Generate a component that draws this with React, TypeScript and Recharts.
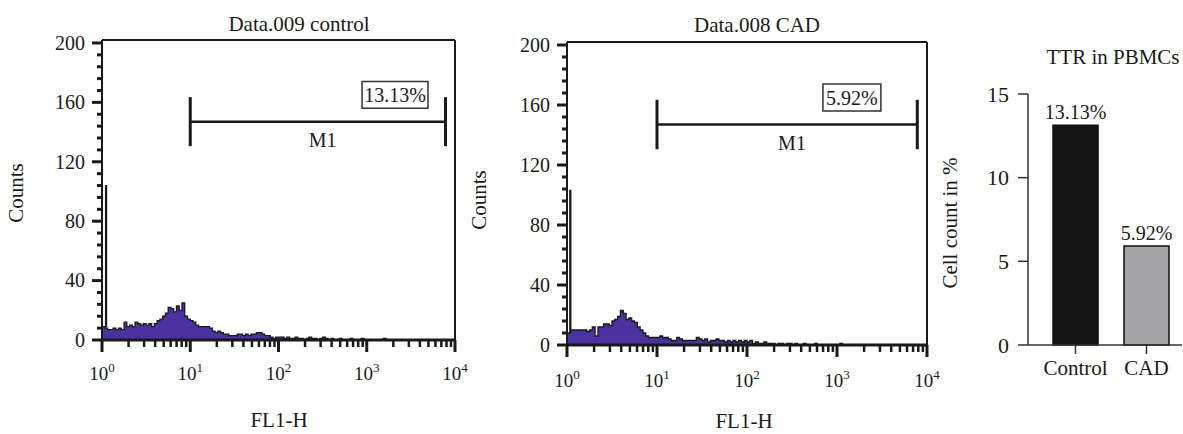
import React from 'react'
import {
  ComposedChart,
  Area,
  XAxis,
  YAxis,
  ReferenceLine,
  ReferenceArea,
  ReferenceDot,
  BarChart,
  Bar,
  Cell,
  LabelList,
} from 'recharts'

const FONT = '"Liberation Serif", "DejaVu Serif", serif'
const INK = '#1a1a1a'
const HIST_FILL = '#4a33a0'

// FL1-H histograms: 32 bins per decade, 10^0 .. 10^4 (128 bins)
const CH_PER_DECADE = 32
const controlCounts = [
  9, 8, 7, 7, 8, 7, 8, 7, 12, 9, 10, 9, 12, 11, 10, 11,
  10, 11, 9, 11, 13, 14, 16, 18, 22, 21, 19, 23, 20, 25, 16, 14,
  13, 12, 10, 9, 9, 9, 9, 8, 6, 5, 6, 5, 4, 4, 3, 3,
  3, 4, 4, 3, 4, 3, 4, 4, 5, 5, 4, 3, 3, 2, 1, 2,
  2, 2, 1, 2, 1, 1, 2, 1, 1, 0, 1, 2, 1, 1, 0, 1,
  2, 1, 0, 1, 0, 0, 1, 0, 0, 0, 1, 0, 0, 0, 1, 0,
  0, 0, 0, 0, 0, 0, 1, 0, 0, 0, 0, 0, 0, 0, 0, 0,
  0, 0, 0, 0, 0, 0, 0, 0, 0, 0, 0, 0, 0, 0, 0, 0,
]
const cadCounts = [
  8, 10, 10, 10, 10, 10, 10, 9, 10, 12, 6, 12, 12, 14, 14, 13,
  16, 17, 19, 23, 21, 17, 18, 16, 15, 12, 10, 8, 6, 5, 5, 5,
  5, 6, 5, 5, 4, 3, 3, 5, 4, 3, 3, 3, 3, 3, 5, 4,
  3, 4, 2, 3, 3, 4, 3, 3, 2, 3, 2, 3, 2, 3, 2, 3,
  2, 3, 1, 2, 1, 1, 2, 1, 1, 1, 0, 1, 1, 0, 1, 1,
  0, 1, 0, 0, 1, 0, 0, 0, 1, 0, 0, 0, 0, 0, 0, 0,
  0, 1, 0, 0, 0, 0, 0, 0, 0, 0, 0, 0, 0, 0, 0, 0,
  0, 0, 0, 0, 0, 0, 0, 0, 0, 0, 0, 0, 0, 0, 0, 0,
]
// off-scale pile-up in the first channel
const controlFirstChannel = 104
const cadFirstChannel = 103

const gateRange = [10, 7800] // M1 marker, FL1-H units
const controlGatePct = '13.13%'
const cadGatePct = '5.92%'

const countMajorTicks = [0, 40, 80, 120, 160, 200]
const countMax = 202

// bar chart
const groups = ['Control', 'CAD']
const ttrPercent = [13.13, 5.92]
const barColors = ['#151515', '#a3a3a7']
const percentTicks = [0, 5, 10, 15]

const toHist = (counts: number[], first: number, firstAt: number) => {
  const rows: { ch: number; count: number }[] = [
    { ch: 0, count: counts[0] },
    { ch: firstAt, count: first },
    { ch: firstAt + 0.35, count: counts[0] },
  ]
  counts.forEach((count, i) => {
    if (i > 0) rows.push({ ch: i, count })
  })
  rows.push({ ch: counts.length, count: counts[counts.length - 1] })
  return rows
}

const chTicks: number[] = []
for (let d = 0; d < 4; d++) {
  for (let k = 1; k <= 9; k++) chTicks.push(CH_PER_DECADE * (d + Math.log10(k)))
}
chTicks.push(CH_PER_DECADE * 4)

const countTicks: number[] = []
for (let v = 0; v <= 200; v += 8) countTicks.push(v)

const toCh = (v: number) => CH_PER_DECADE * Math.log10(v)

const CountTick = ({ x, y, payload }: any) => {
  const v = payload.value
  const major = countMajorTicks.includes(v)
  return (
    <g>
      <line x1={x - (major ? 10 : 5)} x2={x} y1={y} y2={y} stroke={INK} strokeWidth={3} />
      {major && (
        <text x={x - 17} y={y} dy="0.34em" textAnchor="end" fontSize={20} fontFamily={FONT} fill={INK}>
          {v}
        </text>
      )}
    </g>
  )
}

const DecadeTick = ({ x, y, payload, gap }: any) => {
  const d = payload.value / CH_PER_DECADE
  const major = Math.abs(d - Math.round(d)) < 1e-6
  return (
    <g>
      <line x1={x} x2={x} y1={y} y2={y + (major ? 12 : 7)} stroke={INK} strokeWidth={major ? 3 : 2.5} />
      {major && (
        <text x={x} y={y + gap} textAnchor="middle" fontSize={19} fontFamily={FONT} fill={INK}>
          <tspan>10</tspan>
          <tspan dy={-8} fontSize={13}>{Math.round(d)}</tspan>
        </text>
      )}
    </g>
  )
}

const labelStyle = { fontSize: 20, fontFamily: FONT, fill: INK }

function Histogram(props: {
  data: { ch: number; count: number }[]
  pct: string
  box: [number, number]
  top: number
  bottom: number
  axisLeft: number
  right: number
  gap: number
}) {
  const { data, pct, box, top, bottom, axisLeft, right, gap } = props
  const [g0, g1] = gateRange.map(toCh)
  const gateY = 147
  return (
    <ComposedChart width={470} height={434} data={data} margin={{ top, right, left: 0, bottom: 0 }}>
      <XAxis
        type="number"
        dataKey="ch"
        domain={[0, 128]}
        ticks={chTicks}
        interval={0}
        height={434 - bottom}
        tickSize={0}
        tickMargin={0}
        tickLine={false}
        axisLine={{ stroke: INK, strokeWidth: 3 }}
        tick={<DecadeTick gap={gap} />}
        allowDataOverflow
      />
      <YAxis
        type="number"
        domain={[0, countMax]}
        ticks={countTicks}
        interval={0}
        width={axisLeft}
        tickSize={0}
        tickMargin={0}
        tickLine={false}
        axisLine={{ stroke: INK, strokeWidth: 2 }}
        tick={<CountTick />}
        allowDataOverflow
      />
      <Area
        type="stepAfter"
        dataKey="count"
        stroke={INK}
        strokeWidth={1.3}
        fill={HIST_FILL}
        fillOpacity={1}
        baseValue={0}
        dot={false}
        activeDot={false}
        isAnimationActive={false}
      />
      <ReferenceLine y={countMax} stroke={INK} strokeWidth={2} />
      <ReferenceLine x={128} stroke={INK} strokeWidth={2} />
      <ReferenceLine segment={[{ x: g0, y: gateY }, { x: g1, y: gateY }]} stroke={INK} strokeWidth={2.5} />
      <ReferenceLine segment={[{ x: g0, y: gateY - 16.5 }, { x: g0, y: gateY + 16.5 }]} stroke={INK} strokeWidth={3} />
      <ReferenceLine segment={[{ x: g1, y: gateY - 16.5 }, { x: g1, y: gateY + 16.5 }]} stroke={INK} strokeWidth={3} />
      <ReferenceDot x={80} y={135} r={0} fill="none" stroke="none" label={{ value: 'M1', position: 'center', ...labelStyle }} />
      <ReferenceArea
        x1={box[0]}
        x2={box[1]}
        y1={156}
        y2={174}
        fill="#fff"
        fillOpacity={1}
        stroke="#333"
        strokeWidth={1.5}
        label={{ value: pct, position: 'center', ...labelStyle }}
      />
    </ComposedChart>
  )
}

const Caption = ({ x, y, text, rotate }: { x: number; y: number; text: string; rotate?: boolean }) => (
  <div
    style={{
      position: 'absolute',
      left: x,
      top: y,
      transform: `translate(-50%, -50%)${rotate ? ' rotate(-90deg)' : ''}`,
      fontFamily: FONT,
      fontSize: 21,
      lineHeight: 1,
      color: INK,
      whiteSpace: 'nowrap',
    }}
  >
    {text}
  </div>
)

export default function App() {
  const barData = groups.map((group, i) => ({ group, pct: ttrPercent[i] }))
  return (
    <div style={{ position: 'absolute', left: 0, top: 0, width: 1183, height: 434, background: '#fff', overflow: 'hidden' }}>
      <div style={{ position: 'absolute', left: 0, top: 0 }}>
        <Histogram
          data={toHist(controlCounts, controlFirstChannel, 1.3)}
          pct={controlGatePct}
          box={[94.3, 118.2]}
          top={40}
          bottom={340}
          axisLeft={102}
          right={15}
          gap={40}
        />
      </div>
      <div style={{ position: 'absolute', left: 470, top: 0 }}>
        <Histogram
          data={toHist(cadCounts, cadFirstChannel, 1.0)}
          pct={cadGatePct}
          box={[91, 111.6]}
          top={42}
          bottom={345}
          axisLeft={97}
          right={13}
          gap={42}
        />
      </div>
      <div style={{ position: 'absolute', left: 940, top: 0 }}>
        <BarChart width={243} height={434} data={barData} margin={{ top: 94, right: 1, left: 0, bottom: 0 }} barSize={45}>
          <XAxis
            dataKey="group"
            height={89}
            padding={{ left: 12, right: 0 }}
            axisLine={{ stroke: '#333', strokeWidth: 1.5 }}
            tickLine={{ stroke: '#333', strokeWidth: 1.5 }}
            tickSize={9}
            tickMargin={6}
            tick={{ fill: INK, fontSize: 21, fontFamily: FONT }}
            interval={0}
          />
          <YAxis
            type="number"
            domain={[0, 15]}
            ticks={percentTicks}
            interval={0}
            width={88}
            axisLine={{ stroke: '#333', strokeWidth: 1.5 }}
            tickLine={{ stroke: '#333', strokeWidth: 1.5 }}
            tickSize={10}
            tickMargin={9}
            tick={{ fill: INK, fontSize: 22, fontFamily: FONT }}
          />
          <Bar dataKey="pct" stroke="#111" strokeWidth={1.5} isAnimationActive={false}>
            {barData.map((d, i) => (
              <Cell key={d.group} fill={barColors[i]} />
            ))}
            <LabelList
              dataKey="pct"
              position="top"
              offset={6}
              formatter={(v: any) => `${Number(v).toFixed(2)}%`}
              style={{ fill: INK, fontSize: 20, fontFamily: FONT }}
            />
          </Bar>
        </BarChart>
      </div>

      <Caption x={299} y={24} text="Data.009 control" />
      <Caption x={757} y={25} text="Data.008 CAD" />
      <Caption x={16} y={193} text="Counts" rotate />
      <Caption x={479} y={200} text="Counts" rotate />
      <Caption x={279} y={420} text="FL1-H" />
      <Caption x={744} y={421} text="FL1-H" />
      <Caption x={1113} y={57} text="TTR in PBMCs" />
      <Caption x={950} y={223} text="Cell count in %" rotate />
    </div>
  )
}
